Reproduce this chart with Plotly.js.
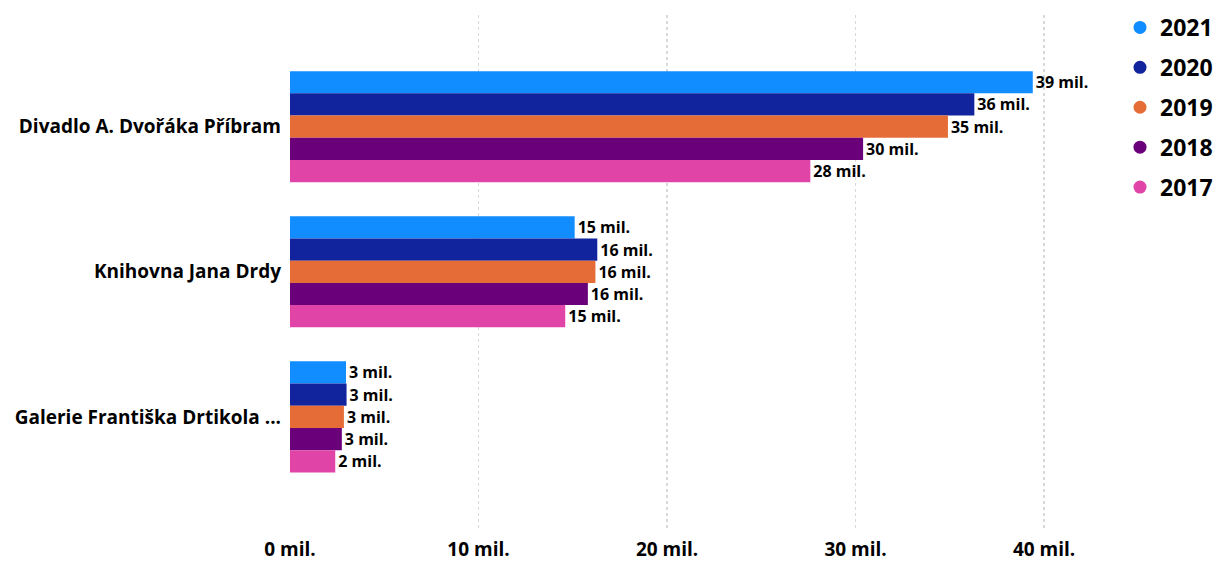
<!DOCTYPE html>
<html>
<head>
<meta charset="utf-8">
<script src="https://cdn.plot.ly/plotly-3.0.1.min.js"></script>
<style>html,body{margin:0;padding:0;background:#fff;}#chart{width:1218px;height:563px;}</style>
</head>
<body>
<div id="chart"></div>
<script>
const categories = ["Divadlo A. Dvořáka Příbram", "Knihovna Jana Drdy", "Galerie Františka Drtikola ..."];
const years = ["2021", "2020", "2019", "2018", "2017"];
const colors = ["#118DFF", "#12239E", "#E66C37", "#6B007B", "#E044A7"];
const values2021 = [39.4, 15.1, 2.97];
const values2020 = [36.3, 16.3, 3.0];
const values2019 = [34.9, 16.2, 2.86];
const values2018 = [30.4, 15.8, 2.75];
const values2017 = [27.6, 14.6, 2.4];
const xTicks = [0, 10, 20, 30, 40];
const xTickLabels = xTicks.map(v => v + " mil.");

const series = [values2021, values2020, values2019, values2018, values2017];
const FONT = "Open Sans";
const traces = [];
series.forEach((vals, i) => {
  traces.push({
    type: "bar", orientation: "h",
    y: categories, x: vals,
    name: years[i],
    marker: {color: colors[i]},
    texttemplate: "%{x:.0f} mil.",
    textposition: "outside",
    cliponaxis: false,
    constraintext: "none",
    textfont: {family: FONT, size: 16, color: "#000", weight: "bold"},
    showlegend: false,
    hoverinfo: "skip"
  });
});
years.forEach((yr, i) => {
  traces.push({
    type: "scatter", mode: "markers",
    x: [null], y: [null],
    name: yr,
    legendgroup: yr,
    marker: {color: colors[i], size: 13, symbol: "circle"},
    showlegend: true
  });
});

const layout = {
  width: 1218, height: 563,
  margin: {l: 290, r: 97.5, t: 15, b: 33},
  paper_bgcolor: "#fff", plot_bgcolor: "#fff",
  barmode: "group",
  bargap: 0.234,
  bargroupgap: 0,
  font: {family: FONT, color: "#000"},
  xaxis: {
    range: [0, 44],
    tickmode: "array",
    tickvals: xTicks,
    ticktext: xTickLabels,
    showgrid: true, gridcolor: "#d9d9d9", griddash: "dot", gridwidth: 1.5,
    zeroline: false, showline: false,
    ticks: "", ticklabelstandoff: 6,
    tickfont: {family: FONT, size: 19, color: "#000", weight: "bold"},
    fixedrange: true
  },
  yaxis: {
    type: "category",
    categoryorder: "array", categoryarray: categories,
    range: [2.78, -0.77],
    showgrid: false, zeroline: false, showline: false,
    ticks: "", ticklabelstandoff: 8,
    tickfont: {family: FONT, size: 19, color: "#000", weight: "bold"},
    fixedrange: true
  },
  legend: {
    xref: "container", yref: "container",
    x: 1120/1218, y: 1 - 6/563, xanchor: "left", yanchor: "top",
    traceorder: "grouped", tracegroupgap: 7,
    font: {family: FONT, size: 23, color: "#000", weight: "bold"},
    itemwidth: 30
  },
  showlegend: true
};

Plotly.newPlot("chart", traces, layout, {displayModeBar: false, staticPlot: true});
</script>
</body>
</html>
